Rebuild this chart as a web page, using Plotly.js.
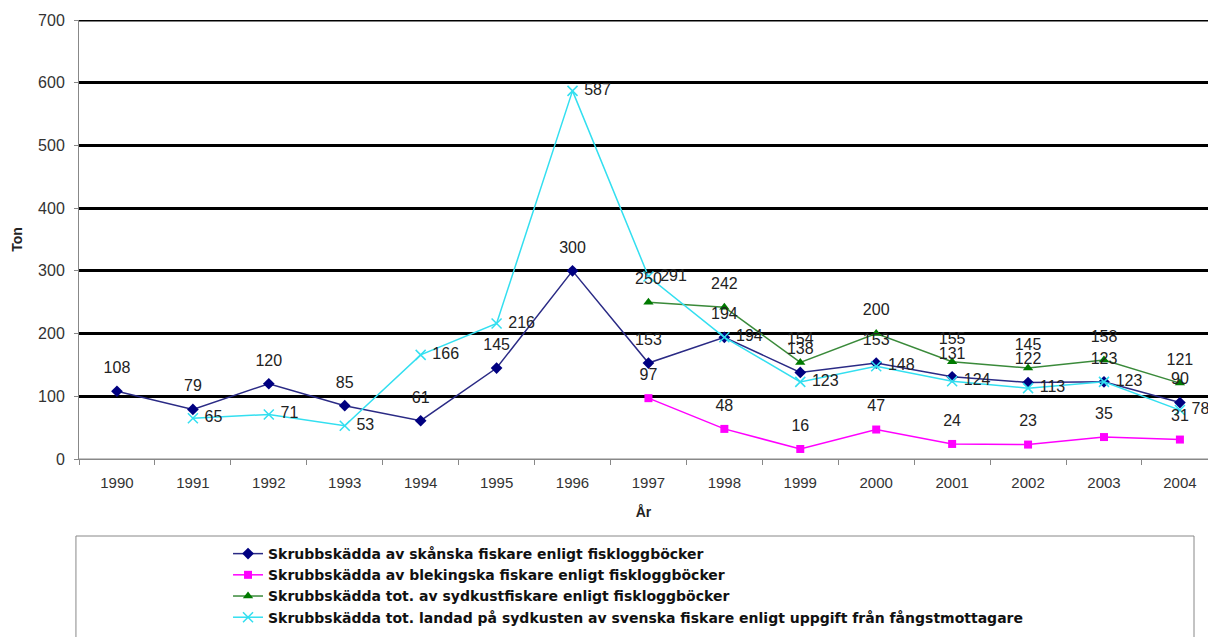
<!DOCTYPE html>
<html lang="sv">
<head>
    <meta charset="UTF-8">
    <title>Skrubbskädda</title>
    <script src="https://cdn.plot.ly/plotly-3.0.1.min.js"></script>
    <style>
        body { margin: 0; padding: 0; background: #fff; }
        #plot { width: 1208px; height: 637px; }
    </style>
</head>
<body>
    <div id="plot"></div>
    <script>
        // År på x-axeln
        const years = ['1990', '1991', '1992', '1993', '1994', '1995', '1996', '1997',
                       '1998', '1999', '2000', '2001', '2002', '2003', '2004'];

        // Ton per serie (null = saknas)
        const skanska = [108, 79, 120, 85, 61, 145, 300, 153, 194, 138, 153, 131, 122, 123, 90];
        const blekingska = [null, null, null, null, null, null, null, 97, 48, 16, 47, 24, 23, 35, 31];
        const sydkust = [null, null, null, null, null, null, null, 250, 242, 154, 200, 155, 145, 158, 121];
        const landad = [null, 65, 71, 53, 166, 216, 587, 291, 194, 123, 148, 124, 113, 123, 78];

        const names = [
            'Skrubbskädda av skånska fiskare enligt fiskloggböcker',
            'Skrubbskädda av blekingska fiskare enligt fiskloggböcker',
            'Skrubbskädda tot. av sydkustfiskare enligt fiskloggböcker',
            'Skrubbskädda tot. landad på sydkusten av svenska fiskare enligt uppgift från fångstmottagare'
        ];

        const labelFont = { family: 'Liberation Sans, Arial, sans-serif', size: 16, color: '#222' };

        // etiketter ovanför punkterna: osynlig större markör ger rätt avstånd
        const labelTrace = (y) => ({
            x: years, y: y, type: 'scatter', mode: 'markers+text', showlegend: false,
            marker: { size: 21, color: 'rgba(0,0,0,0)' },
            texttemplate: '%{y}', textposition: 'top center', textfont: labelFont
        });

        const data = [
            {
                x: years, y: skanska, name: names[0], type: 'scatter', mode: 'lines+markers',
                line: { color: '#2a2a85', width: 1.5 },
                marker: { symbol: 'diamond', size: 9, color: '#000080' }
            },
            {
                x: years, y: blekingska, name: names[1], type: 'scatter', mode: 'lines+markers',
                line: { color: '#ff00ff', width: 1.5 },
                marker: { symbol: 'square', size: 8, color: '#ff00ff' }
            },
            {
                x: years, y: sydkust, name: names[2], type: 'scatter', mode: 'lines+markers',
                line: { color: '#3a8a3a', width: 1.5 },
                marker: { symbol: 'triangle-up', size: 9, color: '#007a00' }
            },
            {
                x: years, y: landad, name: names[3], type: 'scatter', mode: 'lines+markers+text',
                line: { color: '#33dff0', width: 1.5 },
                marker: { symbol: 'x-thin-open', size: 10, color: '#33dff0', line: { color: '#33dff0', width: 1.5 } },
                texttemplate: ' %{y}', textposition: 'middle right', textfont: labelFont
            },
            labelTrace(skanska),
            labelTrace(blekingska),
            labelTrace(sydkust)
        ];

        const layout = {
            width: 1208,
            height: 637,
            margin: { l: 79, r: 0, t: 20, b: 178 },
            paper_bgcolor: '#fff',
            plot_bgcolor: '#fff',
            font: { family: 'Liberation Sans, Arial, sans-serif', size: 15, color: '#333' },
            showlegend: true,
            legend: {
                x: 0.132, y: -0.18, xanchor: 'left', yanchor: 'top',
                bgcolor: 'rgba(0,0,0,0)', borderwidth: 0,
                tracegroupgap: 0,
                font: { family: 'DejaVu Sans, sans-serif', size: 14, color: '#111', weight: 'bold' }
            },
            xaxis: {
                type: 'category',
                range: [-0.5, 14.37],
                showgrid: false,
                showline: true, linecolor: '#888', linewidth: 1,
                ticks: 'outside', tickson: 'boundaries', ticklen: 5, tickcolor: '#888',
                ticklabelstandoff: 10,
                tickfont: { size: 15, color: '#333' },
                title: { text: 'År', font: { size: 14, color: '#222', weight: 'bold' }, standoff: 17 }
            },
            yaxis: {
                range: [0, 700],
                dtick: 100,
                showgrid: true, gridcolor: '#000', gridwidth: 3,
                zeroline: false,
                showline: true, linecolor: '#888', linewidth: 1,
                ticks: 'outside', ticklen: 4, tickcolor: '#888',
                ticklabelstandoff: 6,
                tickfont: { size: 16, color: '#333' },
                title: { text: 'Ton', font: { size: 14, color: '#222', weight: 'bold' }, standoff: 12 }
            },
            shapes: [
                {
                    type: 'rect', xref: 'paper', yref: 'paper',
                    x0: -0.0027, x1: 0.9876, y0: -0.6, y1: -0.1754,
                    line: { color: '#888', width: 1 }, fillcolor: 'rgba(0,0,0,0)', layer: 'below'
                },
                {
                    // grå nollinje ovanpå den svarta rutnätslinjen
                    type: 'line', xref: 'paper', yref: 'y',
                    x0: 0, x1: 1, y0: 0, y1: 0,
                    line: { color: '#888', width: 1 }
                },
                {
                    // rutnätslinjen vid 700 ritas inte av axeln själv
                    type: 'line', xref: 'paper', yref: 'y',
                    x0: 0, x1: 1, y0: 700, y1: 700,
                    line: { color: '#000', width: 3 }
                }
            ]
        };

        Plotly.newPlot('plot', data, layout, { displayModeBar: false, staticPlot: true });
    </script>
</body>
</html>
